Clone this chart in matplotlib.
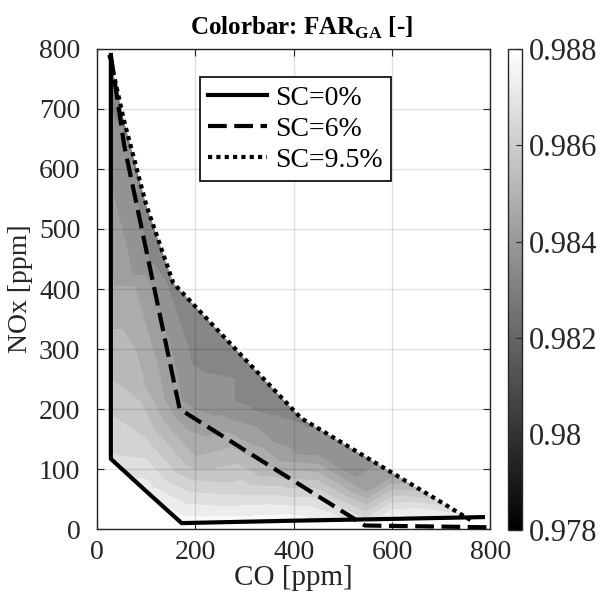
# FAR_GA map over CO / NOx with the three SC boundary lines (MATLAB-style figure)

import numpy as np
import matplotlib
matplotlib.use('Agg')
import matplotlib.pyplot as plt
import matplotlib.tri as mtri
from matplotlib.patches import Polygon
from matplotlib.cm import ScalarMappable
from matplotlib.colors import Normalize

plt.rcParams['font.family'] = ['Liberation Serif', 'DejaVu Serif']
plt.rcParams['mathtext.fontset'] = 'custom'
plt.rcParams['mathtext.rm'] = 'Liberation Serif'
plt.rcParams['mathtext.bf'] = 'Liberation Serif:bold'

# SC = 0 % line (CO, NOx) and FAR_GA read along it
sc0_co = [28, 28, 28, 28, 28, 100, 172, 400, 600, 785]
sc0_nox = [790, 600, 400, 250, 117, 63, 10, 14, 17, 20]
sc0_far = [0.9831, 0.9839, 0.9846, 0.9855, 0.9866, 0.9873, 0.9878, 0.9878, 0.9877, 0.9876]

# SC = 6 % line (last vertex runs along the bottom, outside the map)
sc6_co = [28, 55, 110, 168, 350, 545, 800]
sc6_nox = [790, 640, 426, 200, 106, 6, 3]
sc6_far = [0.9831, 0.9837, 0.9838, 0.9841, 0.9849, 0.9870]

# SC = 9.5 % line
sc95_co = [25, 55, 100, 155, 300, 415, 600, 700, 760]
sc95_nox = [790, 680, 540, 410, 284, 185, 94, 45, 15]
sc95_far = [0.9831, 0.9833, 0.9833, 0.9833, 0.9833, 0.9834, 0.9841, 0.9862, 0.9874]

# interior samples of FAR_GA
in_co = [120, 200, 300, 450, 550, 70, 80, 100, 200, 300, 250, 450, 650, 60, 40, 250, 380]
in_nox = [450, 300, 220, 130, 70, 400, 250, 150, 120, 60, 30, 50, 30, 600, 700, 200, 120]
in_far = [0.9833, 0.9833, 0.9833, 0.9837, 0.9841, 0.9846, 0.9852, 0.9860,
          0.9850, 0.9864, 0.9872, 0.9866, 0.9872, 0.9838, 0.9834, 0.9838, 0.9842]

x_ticks = [0, 200, 400, 600, 800]
y_ticks = [0, 100, 200, 300, 400, 500, 600, 700, 800]
cb_ticks = [0.978, 0.98, 0.982, 0.984, 0.986, 0.988]
cb_labels = ['0.978', '0.98', '0.982', '0.984', '0.986', '0.988']

fig = plt.figure(figsize=(6.03, 6.04), dpi=100)
ax = fig.add_axes([0.161, 0.124, 0.652, 0.795])
cax = fig.add_axes([0.842, 0.1225, 0.023, 0.796])

text_col = '#262626'
norm = Normalize(vmin=0.978, vmax=0.988)

# scattered samples -> triangulated filled contours
px = np.array(sc0_co + sc6_co[:-1] + sc95_co + in_co, dtype=float)
py = np.array(sc0_nox + sc6_nox[:-1] + sc95_nox + in_nox, dtype=float)
pz = np.array(sc0_far + sc6_far + sc95_far + in_far)
tri = mtri.Triangulation(px, py)
levels = np.arange(0.978, 0.98801, 0.0005)
cs = ax.tricontourf(tri, pz, levels=levels, cmap='gray', norm=norm, zorder=1)

# clip the shading to the area between SC=0 and SC=9.5
outline = list(zip(sc0_co, sc0_nox)) + list(zip(sc95_co, sc95_nox))[::-1]
clip = Polygon(outline, closed=True, transform=ax.transData, facecolor='none')
cs.set_clip_path(clip)

ax.plot(sc0_co, sc0_nox, color='black', lw=3, ls='-', label='SC=0%', zorder=3)
ax.plot(sc6_co, sc6_nox, color='black', lw=3, ls=(0, (4.5, 1.8)), label='SC=6%', zorder=3)
ax.plot(sc95_co, sc95_nox, color='black', lw=3, ls=(0, (1, 1)),
        dash_capstyle='butt', label='SC=9.5%', zorder=3)

ax.set_xlim(0, 800)
ax.set_ylim(0, 800)
ax.set_xticks(x_ticks)
ax.set_yticks(y_ticks)
ax.set_axisbelow(False)
ax.grid(True, color='black', alpha=0.12, lw=1)
ax.tick_params(direction='in', top=True, right=True, length=5, width=0.8,
               colors=text_col, labelsize=20)
ax.tick_params(axis='y', pad=12)
ax.tick_params(axis='x', pad=8)
for sp in ax.spines.values():
    sp.set_color(text_col)
    sp.set_linewidth(1.0)

ax.set_xlabel('CO [ppm]', fontsize=21, color=text_col, labelpad=0)
ax.set_ylabel('NOx [ppm]', fontsize=20, color=text_col)
ax.yaxis.set_label_coords(-0.162, 0.5)
ax.set_title(r'Colorbar: FAR$_\mathbf{GA}$ [-]', fontsize=18, fontweight='bold',
             x=0.52, pad=10)

leg = ax.legend(loc='upper left', bbox_to_anchor=(0.262, 0.942), borderaxespad=0,
                fontsize=20, handlelength=2.1, handletextpad=0.3, labelspacing=0.2,
                borderpad=0.3, fancybox=False, framealpha=1, edgecolor='black')
leg.get_frame().set_linewidth(1.2)

cb = fig.colorbar(ScalarMappable(norm=norm, cmap='gray'), cax=cax)
cb.set_ticks(cb_ticks)
cb.set_ticklabels(cb_labels)
cb.ax.tick_params(direction='in', length=4, width=0.8, colors=text_col, labelsize=22, pad=5)
cb.outline.set_edgecolor(text_col)
cb.outline.set_linewidth(1.0)

fig.savefig('out.png', dpi=100)
